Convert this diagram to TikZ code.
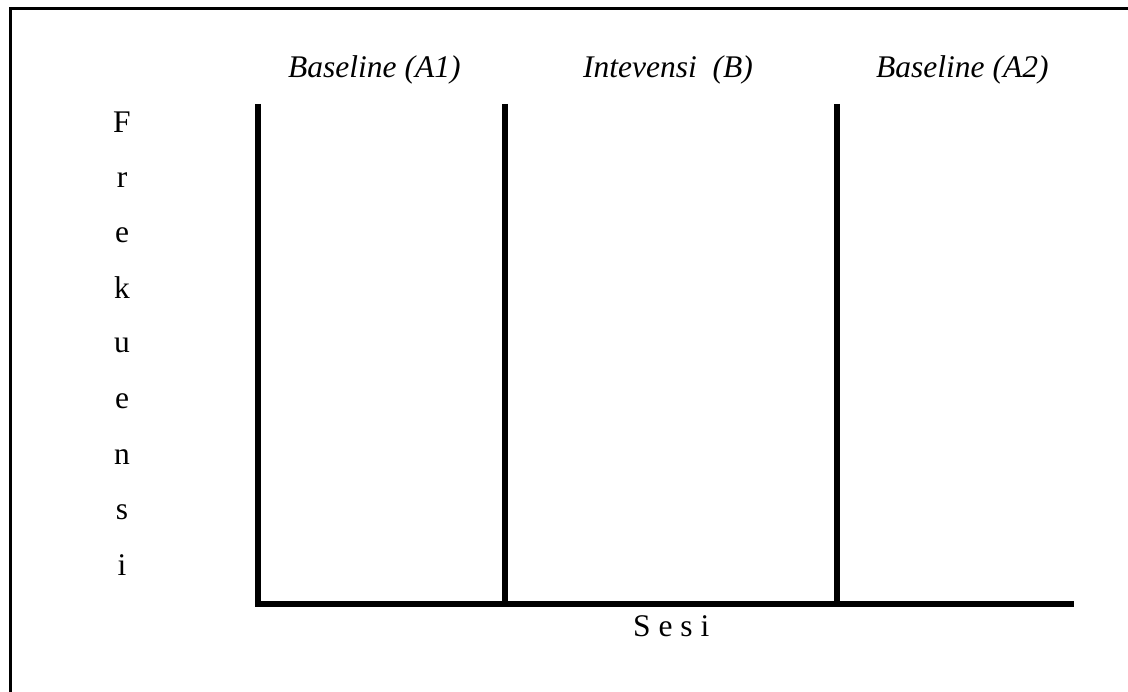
\documentclass[tikz,border=0pt]{standalone}
\usepackage{fontspec}
\setmainfont{Liberation Serif}
\begin{document}
\begin{tikzpicture}[x=1pt,y=-1pt,
  lbl/.style={inner sep=0pt,font=\fontsize{31.5}{38}\selectfont},
  letter/.style={lbl,anchor=base},
  ttl/.style={inner sep=0pt,font=\fontsize{31.5}{38}\selectfont\itshape,anchor=base west},
  axisline/.style={line width=5.7pt},
  frameline/.style={line width=3.6pt}]
\useasboundingbox (0,0) rectangle (1128,692);
\fill[white] (0,0) rectangle (1128,692);
% outer frame (partial)
\coordinate (fb) at (10.5,692);
\coordinate (fc) at (10.5,8.5);
\coordinate (fr) at (1128,8.5);
\draw[frameline] (fb) -- (fc) -- (fr);
% axes
\coordinate (ytop) at (258,104);
\coordinate (o) at (258,604);
\coordinate (xend) at (1074,604);
\coordinate (d1top) at (505,104);
\coordinate (d1bot) at (505,604);
\coordinate (d2top) at (837,104);
\coordinate (d2bot) at (837,604);
\draw[axisline] (ytop) -- (o) -- (xend);
\draw[axisline] (d1top) -- (d1bot);
\draw[axisline] (d2top) -- (d2bot);
% phase titles
\node[ttl] (t1) at (288,78) {Baseline (A1)};
\node[ttl] (t2) at (583,78) {Intevensi\ \ (B)};
\node[ttl] (t3) at (876,78) {Baseline (A2)};
% vertical axis label
\node[letter] (l1) at (122,133) {F};
\node[letter] (l2) at (122,188) {r};
\node[letter] (l3) at (122,243) {e};
\node[letter] (l4) at (122,299) {k};
\node[letter] (l5) at (122,353) {u};
\node[letter] (l6) at (122,409) {e};
\node[letter] (l7) at (122,465) {n};
\node[letter] (l8) at (122,520) {s};
\node[letter] (l9) at (122,575) {i};
% horizontal axis label
\node[lbl,anchor=base west] (sesi) at (633,636) {S e s i};
\end{tikzpicture}
\end{document}
